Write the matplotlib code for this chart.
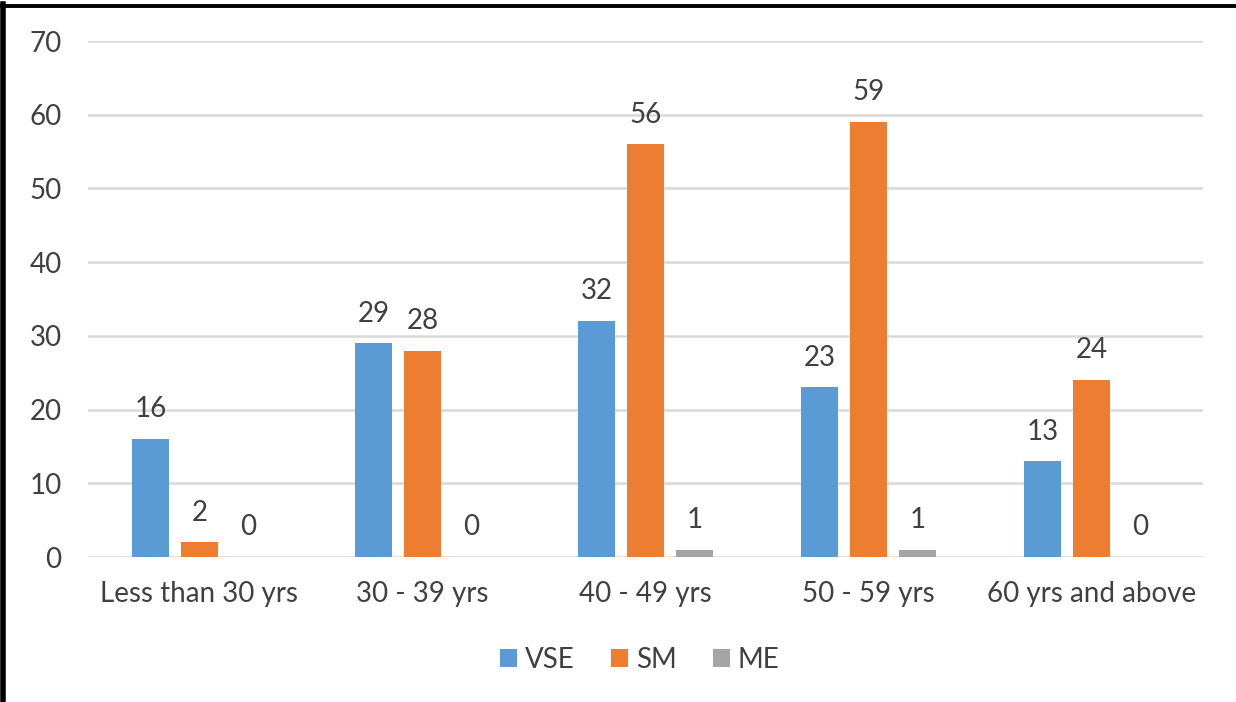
import matplotlib
matplotlib.use("Agg")
import matplotlib.pyplot as plt
from matplotlib.lines import Line2D
import numpy as np

categories = ["Less than 30 yrs", "30 - 39 yrs", "40 - 49 yrs", "50 - 59 yrs", "60 yrs and above"]
vse = [16, 29, 32, 23, 13]
sm = [2, 28, 56, 59, 24]
me = [0, 0, 1, 1, 0]
series_names = ["VSE", "SM", "ME"]
colors = ["#5B9BD5", "#ED7D31", "#A5A5A5"]
yticks = [0, 10, 20, 30, 40, 50, 60, 70]

plt.rcParams['font.family'] = ['Lato', 'DejaVu Sans']

W, H = 1236, 702
fig = plt.figure(figsize=(W / 100, H / 100), dpi=100)
ax = fig.add_axes([88 / W, 1 - 557 / H, (1203 - 88) / W, (557 - 41) / H])

x = np.arange(len(categories))
bw = 0.167
sp = 0.22
fs = 20
label_color = "#404040"
for i, (vals, name, c) in enumerate(zip([vse, sm, me], series_names, colors)):
    pos = x + (i - 1) * sp
    ax.bar(pos, vals, width=bw, color=c, label=name, zorder=3)
    for p, v in zip(pos, vals):
        ax.annotate(str(v), (p, v), xytext=(0, 12), textcoords="offset points",
                    ha="center", va="bottom", fontsize=fs, color=label_color)

ax.set_xlim(-0.5, len(categories) - 0.5)
ax.set_ylim(0, 70)
ax.set_yticks(yticks)
ax.set_yticklabels([str(t) for t in yticks])
ax.set_xticks(x)
ax.set_xticklabels(categories)
ax.tick_params(axis='both', length=0, labelsize=fs, labelcolor=label_color)
ax.tick_params(axis='y', pad=19)
ax.tick_params(axis='x', pad=17)
for s in ax.spines.values():
    s.set_visible(False)
ax.yaxis.grid(True, color="#D9D9D9", linewidth=1.8, zorder=0)
ax.set_axisbelow(True)

leg = fig.legend(loc="center", bbox_to_anchor=(640 / W, 1 - 660 / H), ncol=3,
                 frameon=False, fontsize=fs, handlelength=0.6, handleheight=0.6,
                 handletextpad=0.3, columnspacing=1.3)
for t in leg.get_texts():
    t.set_color(label_color)

fig.add_artist(Line2D([0, 1], [1 - 5.5 / H, 1 - 5.5 / H], transform=fig.transFigure,
                      color="black", linewidth=2.8))
fig.add_artist(Line2D([3 / W, 3 / W], [0, 1 - 4 / H], transform=fig.transFigure,
                      color="black", linewidth=4))

fig.savefig("out.png", dpi=100)
